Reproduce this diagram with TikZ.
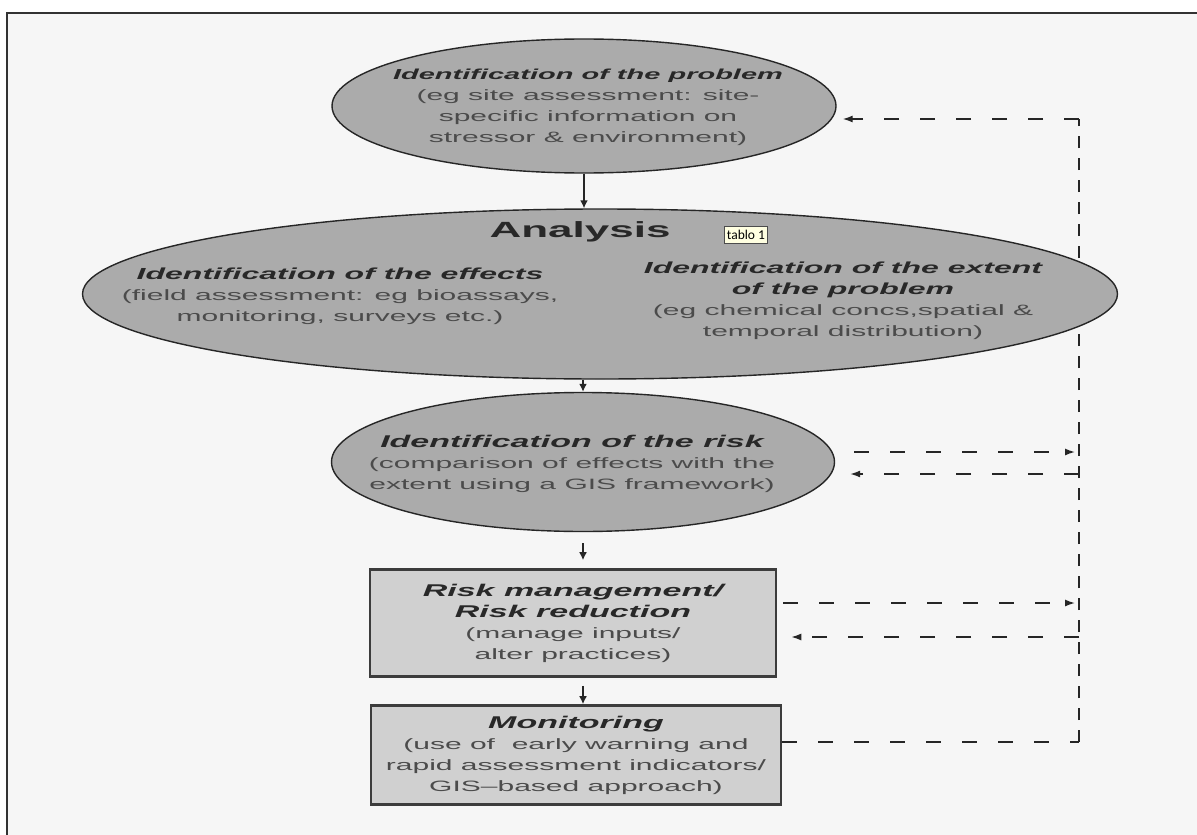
\documentclass[tikz,border=0pt]{standalone}
\usepackage{fontspec}
\setmainfont{Liberation Sans}[FakeStretch=2.0]
\newfontfamily\notefont{Carlito}
\usetikzlibrary{positioning,shapes.geometric,arrows.meta,calc}
\definecolor{paper}{RGB}{246,246,246}
\definecolor{framecol}{RGB}{50,50,50}
\definecolor{bubblegray}{RGB}{171,171,171}
\definecolor{boxgray}{RGB}{208,208,208}
\definecolor{boxedge}{RGB}{60,60,60}
\definecolor{titlecol}{RGB}{40,40,40}
\definecolor{subgray}{RGB}{75,75,75}
\definecolor{notefill}{RGB}{255,255,225}

\tikzset{
  bubble/.style={ellipse, draw=black!85, line width=1.4pt, fill=bubblegray, inner sep=0pt},
  stage/.style={rectangle, draw=boxedge, line width=2.6pt, fill=boxgray, align=center,
    inner sep=0pt, font=\fontsize{15}{21}\selectfont, text=subgray},
  txt/.style={align=center, font=\fontsize{15}{21}\selectfont, text=subgray},
  notebox/.style={draw=black!70, fill=notefill, font=\notefont\fontsize{13.5}{13.5}\selectfont,
    inner sep=1pt, minimum width=43pt, minimum height=17pt},
  flow/.style={-{Latex[length=8pt,width=8pt]}, line width=1.6pt, draw=black!85},
  feedback/.style={dash pattern=on 15pt off 21pt, line width=1.4pt, draw=black!85},
  feedarrow/.style={feedback, -{Latex[length=10pt,width=7pt]}},
  feedrail/.style={dash pattern=on 12pt off 10pt, line width=2.2pt, draw=black!85}
}
% title line, optional size
\newcommand{\ttl}[2][17]{{\fontsize{#1}{21}\selectfont\bfseries\itshape\color{titlecol}#2}}

\begin{document}
\begin{tikzpicture}[x=1pt,y=-1pt]
\useasboundingbox (0,0) rectangle (1197,835);
\fill[white] (0,0) rectangle (1197,835);
\fill[paper] (7,13) rectangle (1197,835);
\draw[framecol, line width=2pt] (7,835) -- (7,13) -- (1197,13);

\coordinate (ctop) at (1079,119);
\coordinate (cbot) at (1079,742);
\coordinate (r1) at (1079,452);
\coordinate (r2) at (1079,474);
\coordinate (b1) at (1079,603);
\coordinate (b2) at (1079,637);

% Feedback rail (under the ellipses)
\draw[feedrail] (cbot) -- (ctop);

% Problem
\node[bubble, minimum width=504pt, minimum height=134pt] (problem) at (584,106) {};
\node[txt] (problemtxt) at (588,107) {\ttl[14.5]{Identification of the problem}\\(eg site assessment: site-\\specific information on\\stressor \& environment)};

% Analysis
\node[bubble, minimum width=1035pt, minimum height=170pt] (ana) at (600,294) {};
\node[font=\fontsize{22}{22}\selectfont\bfseries, text=titlecol] (anatitle) at (580,232) {Analysis};
\node[notebox] (note) at (746,235) {tablo 1};
\node[txt] (effects) at (340,296) {\ttl[16]{Identification of the effects}\\(field assessment: eg bioassays,\\monitoring, surveys etc.)};
\node[txt] (extent) at (843,301) {\ttl[16]{Identification of the extent}\\\ttl[16]{of the problem}\\(eg chemical concs,spatial \&\\temporal distribution)};

% Risk
\node[bubble, minimum width=503pt, minimum height=139pt] (risk) at (583,462) {};
\node[txt] (risktxt) at (572,464) {\ttl{Identification of the risk}\\(comparison of effects with the\\extent using a GIS framework)};

% Boxes
\node[stage, minimum width=406pt, minimum height=107pt] (rbox) at (573,623) {\ttl{Risk management/}\\\ttl{Risk reduction}\\(manage inputs/\\alter practices)};
\node[stage, minimum width=410pt, minimum height=99pt] (mbox) at (576,755) {\ttl{Monitoring}\\(use of\ \ early warning and\\rapid assessment indicators/\\GIS--based approach)};

% Flow
\draw[flow] (problem.south) -- (problem.south |- ana.north);
\draw[flow] (risk.north |- ana.south) -- (risk.north);
\draw[flow, shorten <=11pt, shorten >=8pt] (risk.south) -- (risk.south |- rbox.north);
\draw[flow, shorten <=8pt] (rbox.south -| risk.south) -- (mbox.north -| risk.south);

% Feedback
\draw[feedback] (mbox.east |- cbot) -- (cbot);
\draw[feedarrow] (ctop) -- ([xshift=6pt]problem.east |- ctop);
\draw[feedarrow] ([xshift=19pt]risk.east |- r1) -- ([xshift=-4pt]r1);
\draw[feedarrow] (r2) -- ([xshift=15pt]risk.east |- r2);
\draw[feedarrow] ([xshift=6pt]rbox.east |- b1) -- ([xshift=-4pt]b1);
\draw[feedarrow] (b2) -- ([xshift=14pt]rbox.east |- b2);
\end{tikzpicture}
\end{document}
